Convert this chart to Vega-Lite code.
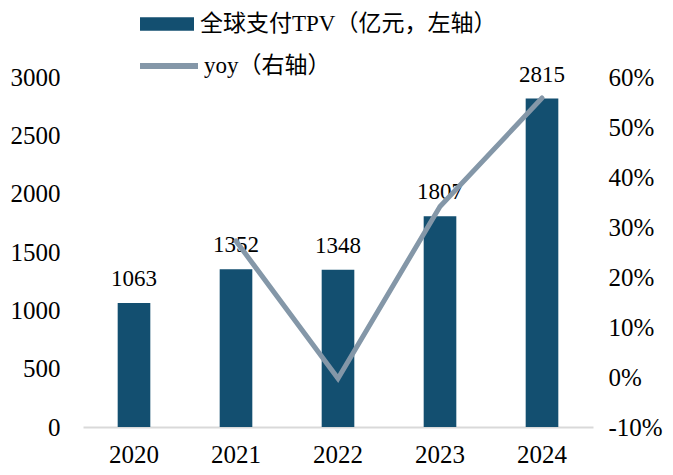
{
  "$schema": "https://vega.github.io/schema/vega-lite/v6.json",
  "width": 510,
  "height": 350,
  "autosize": {"type": "none"},
  "padding": {"left": 83, "top": 77, "right": 80, "bottom": 48},
  "background": "white",
  "config": {
    "view": {"stroke": null},
    "font": "Liberation Serif",
    "style": {"guide-label": {"font": "Liberation Serif", "fontSize": 25, "fill": "#000000"}},
    "axis": {"labelFont": "Liberation Serif", "labelFontSize": 25, "labelColor": "#000000", "grid": false, "ticks": false, "title": null},
    "legend": {"labelFont": "Liberation Serif, Noto Sans CJK SC", "labelFontSize": 23, "labelColor": "#000000", "labelLimit": 0}
  },
  "data": {
    "values": [
      {"year": "2020", "tpv": 1063, "yoy": null},
      {"year": "2021", "tpv": 1352, "yoy": 0.272},
      {"year": "2022", "tpv": 1348, "yoy": -0.003},
      {"year": "2023", "tpv": 1807, "yoy": 0.341},
      {"year": "2024", "tpv": 2815, "yoy": 0.558}
    ]
  },
  "encoding": {
    "x": {
      "field": "year",
      "type": "ordinal",
      "scale": {"paddingInner": 0.68, "paddingOuter": 0.34},
      "axis": {"labelAngle": 0, "labelPadding": 15, "domainColor": "#d9d9d9", "domainWidth": 2, "labelFont": "Liberation Serif", "labelFontSize": 25, "labelColor": "#000000"}
    }
  },
  "layer": [
    {
      "layer": [
        {
          "mark": {"type": "bar", "color": "#134f70"},
          "encoding": {
            "y": {"field": "tpv", "type": "quantitative", "scale": {"domain": [0, 3000]}, "axis": {"values": [0, 500, 1000, 1500, 2000, 2500, 3000], "format": "d", "domain": false, "labelPadding": 23, "labelFont": "Liberation Serif", "labelFontSize": 25, "labelColor": "#000000"}},
            "fill": {
              "datum": "全球支付TPV（亿元，左轴）",
              "type": "nominal",
              "scale": {"range": ["#134f70"]},
              "legend": {"title": null, "orient": "none", "legendX": 57, "legendY": -80, "symbolType": "M-1,-0.25H1V0.25H-1Z", "symbolSize": 2916, "symbolStrokeWidth": 0, "labelOffset": 6, "labelLimit": 0}
            }
          }
        },
        {
          "mark": {"type": "text", "baseline": "bottom", "dy": -12, "fontSize": 23, "font": "Liberation Serif", "color": "#000000"},
          "encoding": {
            "y": {"field": "tpv", "type": "quantitative"},
            "text": {"field": "tpv", "type": "quantitative", "format": "d"}
          }
        }
      ]
    },
    {
      "mark": {"type": "line", "strokeWidth": 5, "strokeCap": "round"},
      "encoding": {
        "x": {"field": "year", "type": "ordinal", "bandPosition": 0.5},
        "y": {"field": "yoy", "type": "quantitative", "scale": {"domain": [-0.1, 0.6]}, "axis": {"orient": "right", "format": ".0%", "labelExpr": "replace(datum.label, '−', '-')", "values": [-0.1, 0, 0.1, 0.2, 0.3, 0.4, 0.5, 0.6], "domain": false, "labelPadding": 15, "labelFont": "Liberation Serif", "labelFontSize": 25, "labelColor": "#000000"}},
        "stroke": {
          "datum": "yoy（右轴）",
          "type": "nominal",
          "scale": {"range": ["#8497a8"]},
          "legend": {"title": null, "orient": "none", "legendX": 54, "legendY": -43, "symbolType": "stroke", "symbolSize": 3364, "symbolStrokeWidth": 6, "labelOffset": 3, "labelLimit": 0}
        }
      }
    }
  ],
  "resolve": {"scale": {"y": "independent", "fill": "independent", "stroke": "independent"}}
}
